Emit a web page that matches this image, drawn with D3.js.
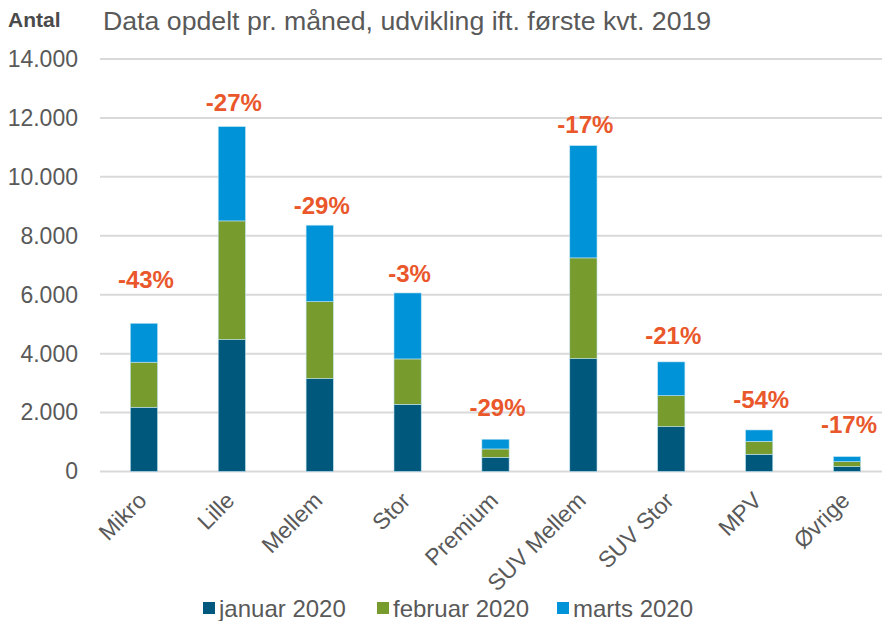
<!DOCTYPE html>
<html>
<head>
<meta charset="utf-8">
<script src="https://cdn.jsdelivr.net/npm/d3@7"></script>
<style>
  body { margin: 0; background: #fff; }
  text { font-family: "Liberation Sans", Arial, sans-serif; }
</style>
</head>
<body>
<script>
// segments and monthly registrations
let segments = ['Mikro', 'Lille', 'Mellem', 'Stor', 'Premium', 'SUV Mellem', 'SUV Stor', 'MPV', 'Øvrige']
let januar  = [2180, 4475, 3150, 2280, 480, 3830, 1520, 585, 165]
let februar = [1530, 4030, 2615, 1540, 285, 3420, 1055, 440, 170]
let marts   = [1320, 3200, 2595, 2240, 330, 3810, 1145, 385, 170]
let change  = ['-43%', '-27%', '-29%', '-3%', '-29%', '-17%', '-21%', '-54%', '-17%']
let labelLevel = [6230, 12250, 8730, 6440, 1880, 11480, 4320, 2160, 1310]   // hidden helper series the % labels sit on
let yTicks = [0, 2000, 4000, 6000, 8000, 10000, 12000, 14000]
let seriesNames = ['januar 2020', 'februar 2020', 'marts 2020']
let colors = ['#00587C', '#789B2E', '#0093D7']

let width = 882
let height = 621

let svg = d3.select('body')
    .append('svg')
    .attr('width', width)
    .attr('height', height)

let xScale = d3.scaleBand()
    .domain(segments)
    .range([100, 891])
    .paddingInner(0.69)
    .paddingOuter(0.345)

let yScale = d3.scaleLinear()
    .domain([0, 14000])
    .range([471.5, 59])

// gridlines
svg.append('g')
    .selectAll('line')
    .data(yTicks)
    .enter().append('line')
    .attr('x1', 100)
    .attr('x2', width)
    .attr('y1', d => yScale(d))
    .attr('y2', d => yScale(d))
    .attr('stroke', '#D9D9D9')
    .attr('stroke-width', 2)

// y axis labels
let yAxis = d3.axisLeft(yScale)
    .tickValues(yTicks)
    .tickSize(0)
    .tickPadding(0)
    .tickFormat(d => d3.format(',')(d).replace(/,/g, '.'))

let gy = svg.append('g')
    .attr('transform', 'translate(78,0)')
    .call(yAxis)
gy.select('.domain').remove()
gy.selectAll('text')
    .attr('font-size', 23)
    .attr('fill', '#595959')
    .attr('font-family', '"Liberation Sans", Arial, sans-serif')

// stacked bars
let rows = segments.map((s, i) => ({ segment: s, januar: januar[i], februar: februar[i], marts: marts[i] }))
let stack = d3.stack().keys(['januar', 'februar', 'marts'])(rows)

svg.append('g')
    .selectAll('g')
    .data(stack)
    .enter().append('g')
    .attr('fill', (d, i) => colors[i])
    .selectAll('rect')
    .data(d => d)
    .enter().append('rect')
    .attr('x', d => xScale(d.data.segment))
    .attr('y', d => yScale(d[1]))
    .attr('width', xScale.bandwidth())
    .attr('height', d => yScale(d[0]) - yScale(d[1]))
    .attr('stroke', '#BFE3F2')
    .attr('stroke-width', 0.6)

// change labels
svg.append('g')
    .selectAll('text')
    .data(segments)
    .enter().append('text')
    .attr('x', d => xScale(d) + xScale.bandwidth() / 2 + 2)
    .attr('y', (d, i) => yScale(labelLevel[i]))
    .attr('text-anchor', 'middle')
    .attr('font-size', 24)
    .attr('font-weight', 'bold')
    .attr('fill', '#E9572B')
    .text((d, i) => change[i])

// x axis labels, rotated
let xAxis = d3.axisBottom(xScale).tickSize(0).tickPadding(0)
let gx = svg.append('g')
    .attr('transform', 'translate(0,471)')
    .call(xAxis)
gx.select('.domain').remove()
gx.selectAll('text')
    .attr('font-size', 23)
    .attr('fill', '#595959')
    .attr('font-family', '"Liberation Sans", Arial, sans-serif')
    .attr('text-anchor', 'end')
    .attr('dy', null)
    .attr('y', 0)
    .attr('transform', 'translate(4,31) rotate(-45)')

// header texts
svg.append('text')
    .attr('x', 8)
    .attr('y', 27)
    .attr('font-size', 21)
    .attr('font-weight', 'bold')
    .attr('fill', '#4A4A4A')
    .text('Antal')

svg.append('text')
    .attr('x', 103)
    .attr('y', 30)
    .attr('font-size', 26.7)
    .attr('fill', '#595959')
    .text('Data opdelt pr. måned, udvikling ift. første kvt. 2019')

// legend
let legendX = [203, 377, 557]
let legend = svg.append('g')
    .selectAll('g')
    .data(seriesNames)
    .enter().append('g')
    .attr('transform', (d, i) => 'translate(' + legendX[i] + ',608)')

legend.append('rect')
    .attr('x', 0)
    .attr('y', -6)
    .attr('width', 12)
    .attr('height', 12)
    .attr('fill', (d, i) => colors[i])

legend.append('text')
    .attr('x', 16)
    .attr('y', 8.5)
    .attr('font-size', 24)
    .attr('fill', '#595959')
    .text(d => d)
</script>
</body>
</html>
